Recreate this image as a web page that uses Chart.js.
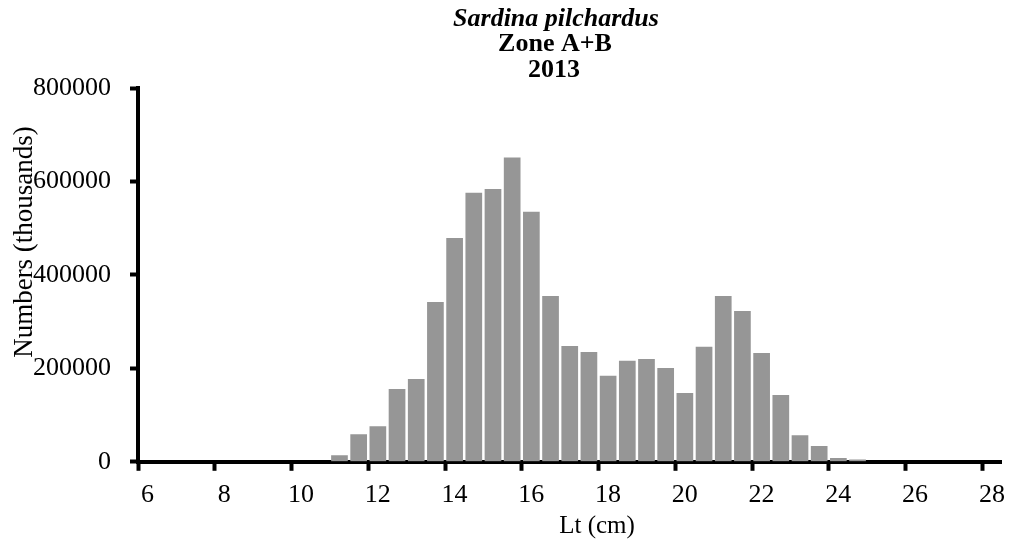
<!DOCTYPE html>
<html>
<head>
<meta charset="utf-8">
<script src="https://cdn.jsdelivr.net/npm/chart.js@4.4.0/dist/chart.umd.min.js"></script>
<style>
  body { margin: 0; background: #fff; }
  #wrap { width: 1014px; height: 545px; position: relative; }
</style>
</head>
<body>
<div id="wrap"><canvas id="myChart"></canvas></div>
<script>
// length classes (cm), 0.5 cm steps
const lengths = ['6', '6.5', '7', '7.5', '8', '8.5', '9', '9.5', '10', '10.5',
  '11', '11.5', '12', '12.5', '13', '13.5', '14', '14.5', '15', '15.5',
  '16', '16.5', '17', '17.5', '18', '18.5', '19', '19.5', '20', '20.5',
  '21', '21.5', '22', '22.5', '23', '23.5', '24', '24.5', '25', '25.5',
  '26', '26.5', '27', '27.5', '28'];

// numbers (thousands)
const numbers = [0, 0, 0, 0, 0, 0, 0, 0, 0, 0,
  14000, 59000, 76000, 156000, 177000, 342000, 479000, 576000, 584000, 651000,
  535000, 355000, 248000, 235000, 184000, 216000, 220000, 201000, 147000, 246000,
  355000, 323000, 233000, 143000, 57000, 34000, 8000, 5000, 0, 0,
  0, 0, 0, 0, 0];

const yTicks = [0, 200000, 400000, 600000, 800000];

const titleLines = ['Sardina pilchardus', 'Zone A+B', '2013'];
const yTitle = 'Numbers (thousands)';
const xTitle = 'Lt (cm)';

const serif = '"Liberation Serif", "Times New Roman", serif';

// titles are not centred on the plot in the original, so draw them by hand
const textPlugin = {
  id: 'texts',
  afterDraw(chart) {
    const c = chart.ctx;
    c.save();
    c.fillStyle = '#000';
    c.textAlign = 'center';
    c.textBaseline = 'alphabetic';
    c.font = 'italic bold 26px ' + serif;
    c.fillText(titleLines[0], 556, 26);
    c.font = 'bold 26px ' + serif;
    c.fillText(titleLines[1], 555, 51);
    c.fillText(titleLines[2], 554, 77);

    c.font = '25px ' + serif;
    c.fillText(xTitle, 597, 533);

    c.font = '27px ' + serif;
    c.translate(25, 242);
    c.rotate(-Math.PI / 2);
    c.textBaseline = 'middle';
    c.fillText(yTitle, 0, 0);
    c.restore();
  }
};

const ctx = document.getElementById('myChart');
new Chart(ctx, {
  type: 'bar',
  data: {
    labels: lengths,
    datasets: [{
      data: numbers,
      backgroundColor: '#969696',
      borderWidth: 0,
      barPercentage: 0.87,
      categoryPercentage: 1,
    }],
  },
  options: {
    responsive: true,
    maintainAspectRatio: false,
    animation: false,
    layout: { padding: { top: 88, left: 14, right: 11, bottom: 25 } },
    plugins: {
      legend: { display: false },
      tooltip: { enabled: false },
    },
    scales: {
      x: {
        offset: true,
        border: { color: '#000', width: 4 },
        grid: {
          offset: true,
          drawOnChartArea: false,
          tickLength: 9,
          tickWidth: 4,
          tickColor: (c) => (c.index !== undefined && c.index % 4 === 0) ? '#000' : 'rgba(0,0,0,0)',
        },
        ticks: {
          autoSkip: false,
          maxRotation: 0,
          padding: 9,
          color: '#000',
          font: { family: serif, size: 26 },
          callback: (v, i) => (i % 4 === 0 ? lengths[i] : ''),
        },
      },
      y: {
        min: yTicks[0],
        max: yTicks[yTicks.length - 1],
        border: { color: '#000', width: 4 },
        grid: { drawOnChartArea: false, tickLength: 8, tickWidth: 4, tickColor: '#000' },
        afterBuildTicks: (scale) => { scale.ticks = yTicks.map((v) => ({ value: v })); },
        ticks: {
          padding: 19,
          color: '#000',
          font: { family: serif, size: 26 },
          callback: (v) => String(v),
        },
      },
    },
  },
  plugins: [textPlugin],
});
</script>
</body>
</html>
